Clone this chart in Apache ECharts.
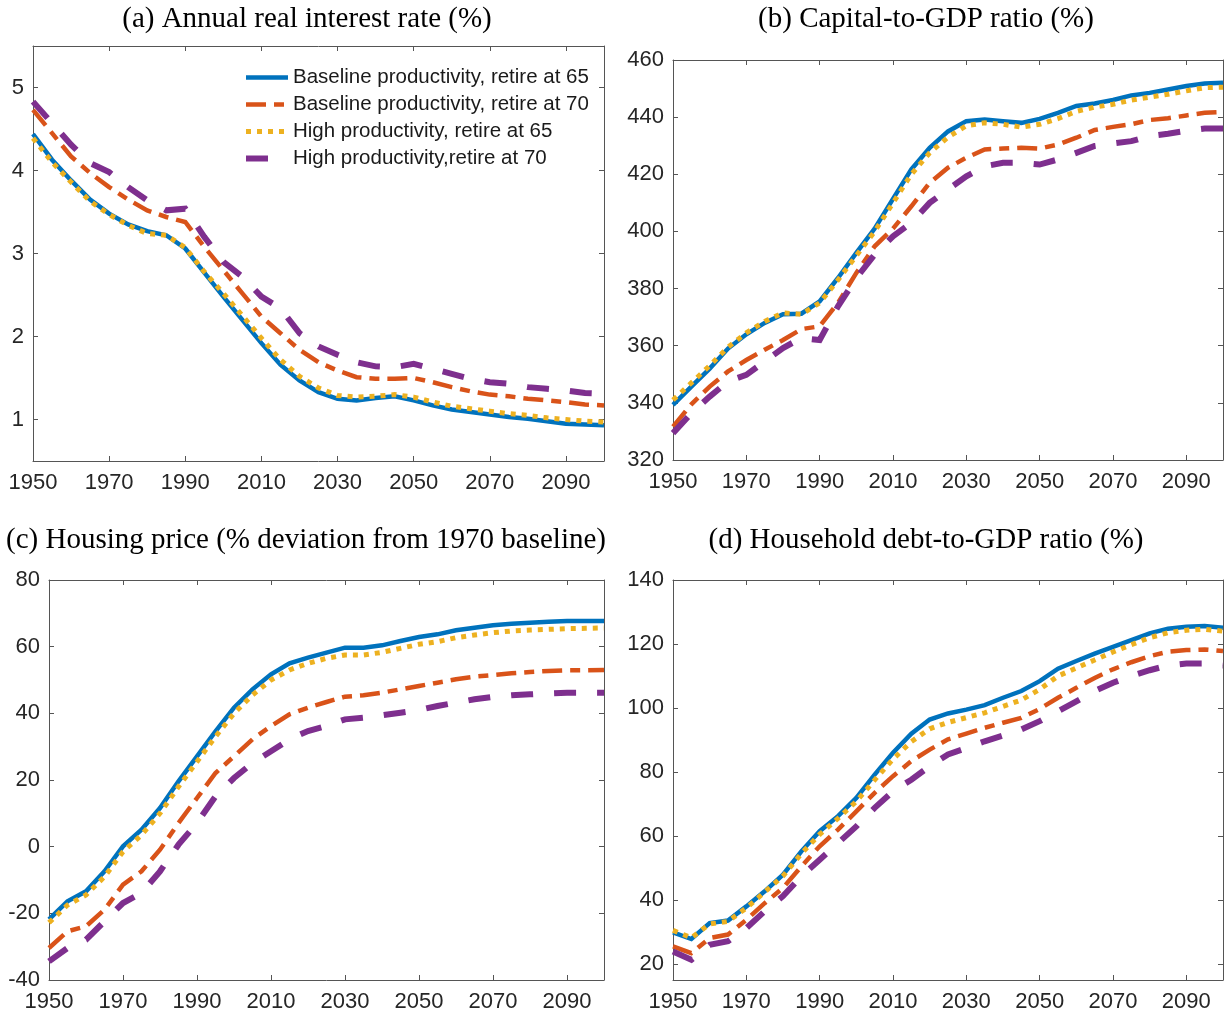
<!DOCTYPE html>
<html>
<head>
<meta charset="utf-8">
<script src="https://cdn.jsdelivr.net/npm/echarts@6/dist/echarts.min.js"></script>
<style>
html,body{margin:0;padding:0;background:#fff;}
#chart{width:1231px;height:1018px;}
</style>
</head>
<body>
<div id="chart"></div>
<script>
const years = [1950,1955,1960,1965,1970,1975,1980,1985,1990,1995,2000,2005,2010,2015,2020,2025,2030,2035,2040,2045,2050,2055,2060,2065,2070,2075,2080,2085,2090,2095,2100];
const xTicks = [1950,1970,1990,2010,2030,2050,2070,2090];
const seriesNames = ['Baseline productivity, retire at 65','Baseline productivity, retire at 70','High productivity, retire at 65','High productivity,retire at 70'];
const panelTitles = ['(a) Annual real interest rate (%)','(b) Capital-to-GDP ratio (%)','(c) Housing price (% deviation from 1970 baseline)','(d) Household debt-to-GDP ratio (%)'];

// (a) Annual real interest rate
const aBaseline65 = [4.44,4.13,3.88,3.65,3.48,3.35,3.27,3.22,3.06,2.77,2.48,2.20,1.92,1.66,1.47,1.33,1.25,1.23,1.26,1.28,1.23,1.17,1.12,1.09,1.06,1.03,1.01,0.98,0.95,0.94,0.93];
const aBaseline70 = [4.73,4.45,4.17,3.97,3.80,3.65,3.52,3.44,3.38,3.08,2.80,2.52,2.24,2.04,1.84,1.69,1.59,1.51,1.49,1.49,1.50,1.45,1.39,1.34,1.30,1.28,1.25,1.23,1.21,1.18,1.17];
const aHigh65 = [4.39,4.10,3.86,3.63,3.47,3.34,3.24,3.22,3.07,2.78,2.52,2.25,1.98,1.72,1.52,1.38,1.29,1.27,1.28,1.30,1.27,1.21,1.16,1.13,1.10,1.07,1.05,1.02,1.00,0.98,0.97];
const aHigh70 = [4.83,4.57,4.31,4.09,3.98,3.80,3.64,3.52,3.54,3.20,2.90,2.72,2.48,2.34,2.04,1.88,1.78,1.69,1.64,1.63,1.67,1.61,1.55,1.49,1.45,1.43,1.39,1.37,1.35,1.32,1.31];
const aTicks = [1,2,3,4,5];

// (b) Capital-to-GDP ratio
const bBaseline65 = [339.3,345.7,352,359,364,368,371,371.2,375.5,383.7,392.5,401,411.4,421.7,429.3,435,438.6,439.2,438.6,438,439.4,441.5,443.9,444.8,446,447.6,448.5,449.7,450.9,451.8,452];
const bBaseline70 = [331.7,339.5,345.7,351,355,358.6,362,365.8,366.8,375,385.5,394.8,401,408.8,417,422.3,425.8,428.7,429,429.3,429,430.4,432.8,435.5,436.6,437.5,439,439.6,440.6,441.5,441.8];
const bHigh65 = [341,347,353,359.5,364.5,368.5,371.5,371,375,383,391.5,400,410,420,427.5,433,437,438,437.5,436.5,437.5,439.5,442,443.5,444.5,446,447,448,449.2,450.3,450.5];
const bHigh70 = [329.4,336.4,342.2,347.5,349.8,354.5,359.2,362.7,362,373.8,383.7,391.9,398.3,403,410,414.7,419.3,422.8,424,424,423.4,425.2,427.5,429.9,430.8,431.6,433.4,434.2,435.2,436,436];
const bTicks = [320,340,360,380,400,420,440,460];

// (c) Housing price
const cBaseline65 = [-21.8,-16.4,-13.4,-7.4,0.1,5.1,11.6,19.6,27.1,34.6,41.7,47.2,51.7,55,56.7,58.2,59.7,59.7,60.4,61.7,62.9,63.7,64.9,65.7,66.4,66.9,67.2,67.5,67.7,67.7,67.7];
const cBaseline70 = [-30.4,-25.4,-23.9,-18.9,-11.4,-7.4,-0.9,7.1,14.6,22.1,27.1,32.2,36.2,39.7,41.7,43.4,45,45.4,46.2,47.2,48.2,49.2,50.2,51,51.5,52,52.4,52.7,52.9,52.9,53];
const cHigh65 = [-22.8,-17.5,-14.5,-9,-1.5,3.5,10,18,25.5,33,40,45.5,50,53,55,56.5,57.5,57.5,58.3,59.5,60.7,61.5,62.7,63.5,64.2,64.7,65,65.2,65.4,65.5,65.6];
const cHigh70 = [-34.4,-30.4,-27.9,-22.4,-16.9,-13.9,-7.4,0.6,7.1,15.1,20.6,25.1,28.6,32.2,34.7,36.2,38.2,38.7,39.4,40.2,41,42.2,43.2,44.2,44.9,45.4,45.7,46,46.2,46.2,46.2];
const cTicks = [-40,-20,0,20,40,60,80];

// (d) Household debt-to-GDP ratio
const dBaseline65 = [29.9,27.8,32.8,33.6,38,42.7,47.9,55.2,61.5,66.2,71.9,79.2,86,92,96.4,98.3,99.5,100.9,103.2,105.3,108.4,112.3,114.7,117,119.1,121.2,123.3,124.8,125.4,125.6,125.1];
const dBaseline70 = [25.5,23.4,28.1,29.2,33.8,39,43.8,50.5,56.8,62,67.7,73.5,78.7,83.4,87,90.2,92,93.8,95.4,96.9,99.7,103.2,106.3,109.4,112.1,114.3,116.2,117.6,118.1,118.3,117.8];
const dHigh65 = [30.5,28.2,32.5,33.3,37.5,42.5,47.5,54.5,60.5,65.5,70.8,77.5,84,89.5,93.5,95.5,97,98.5,100.5,102.5,105.8,110,112.5,115,117.5,119.8,122,123.5,124.3,124.6,124];
const dHigh70 = [23.9,21.3,26,27.1,31.2,36.5,41.2,47.4,52.6,57.8,63,68.8,74,77.6,81.8,85.5,87.5,89.6,91.4,93.3,95.9,99,102.1,105.3,107.9,110,111.8,113.3,113.9,113.9,113.3];
const dTicks = [20,40,60,80,100,120,140];

const panels = [
  {vals:[aBaseline65,aBaseline70,aHigh65,aHigh70], ticks:aTicks, min:0.5, max:5.5, grid:{left:33,top:46,width:571,height:415}, tx:307, ty:19},
  {vals:[bBaseline65,bBaseline70,bHigh65,bHigh70], ticks:bTicks, min:320, max:460, grid:{left:673,top:60,width:550,height:400}, tx:926, ty:19},
  {vals:[cBaseline65,cBaseline70,cHigh65,cHigh70], ticks:cTicks, min:-40, max:80, grid:{left:49,top:580,width:555,height:400}, tx:306, ty:540},
  {vals:[dBaseline65,dBaseline70,dHigh65,dHigh70], ticks:dTicks, min:15, max:140, grid:{left:673,top:580,width:550,height:400}, tx:926, ty:540}
];

const colors = ['#0072BD','#D95319','#EDB120','#7E2F8E'];
const widths = [4.5,4.5,5,6];
const dashes = ['solid',[20,8,10,8],[5,6],[22,21]];
const axisColor = '#555555';
const labelColor = '#262626';
const labelFont = 'Liberation Sans, Arial, sans-serif';
const plain = v => String(v);

const grid = [], xAxis = [], yAxis = [], series = [], graphic = [];
panels.forEach((p, i) => {
  grid.push(Object.assign({containLabel:false}, p.grid));
  const tickCommon = {show:true, inside:true, length:5, lineStyle:{color:axisColor, width:1}};
  xAxis.push({
    type:'value', gridIndex:i, position:'bottom', min:1950, max:2100,
    axisLine:{show:true, onZero:false, lineStyle:{color:axisColor, width:1}},
    axisTick:Object.assign({customValues:xTicks}, tickCommon),
    axisLabel:{customValues:xTicks, formatter:plain, color:labelColor, fontSize:22, fontFamily:labelFont, margin:11},
    splitLine:{show:false}
  });
  xAxis.push({
    type:'value', gridIndex:i, position:'top', min:1950, max:2100,
    axisLine:{show:true, onZero:false, lineStyle:{color:axisColor, width:1}},
    axisTick:Object.assign({customValues:xTicks}, tickCommon),
    axisLabel:{show:false}, splitLine:{show:false}
  });
  yAxis.push({
    type:'value', gridIndex:i, position:'left', min:p.min, max:p.max,
    axisLine:{show:true, onZero:false, lineStyle:{color:axisColor, width:1}},
    axisTick:Object.assign({customValues:p.ticks}, tickCommon),
    axisLabel:{customValues:p.ticks, formatter:plain, color:labelColor, fontSize:22, fontFamily:labelFont, margin:9},
    splitLine:{show:false}
  });
  yAxis.push({
    type:'value', gridIndex:i, position:'right', min:p.min, max:p.max,
    axisLine:{show:true, onZero:false, lineStyle:{color:axisColor, width:1}},
    axisTick:Object.assign({customValues:p.ticks}, tickCommon),
    axisLabel:{show:false}, splitLine:{show:false}
  });
  p.vals.forEach((v, k) => {
    series.push({
      name:seriesNames[k], type:'line', xAxisIndex:2*i, yAxisIndex:2*i,
      data:years.map((y, j) => [y, v[j]]),
      showSymbol:false, symbol:'none', clip:true,
      lineStyle:{color:colors[k], width:widths[k], type:dashes[k], cap:'butt', join:'miter'},
      itemStyle:{color:colors[k]},
      emphasis:{disabled:true}, z:2+k
    });
  });
  graphic.push({
    type:'text', x:p.tx, y:p.ty,
    style:{text:panelTitles[i], font:'29px "Liberation Serif", "Times New Roman", serif', fill:'#000', textAlign:'center', textVerticalAlign:'middle'}
  });
});

const chart = echarts.init(document.getElementById('chart'), null, {renderer:'canvas'});
chart.setOption({
  animation:false,
  backgroundColor:'#ffffff',
  grid, xAxis, yAxis, series, graphic,
  legend:{
    show:true, orient:'vertical', left:243, top:67, padding:0, itemWidth:42, itemHeight:20, itemGap:6,
    selectedMode:false,
    itemStyle:{opacity:0},
    textStyle:{fontSize:20.5, fontFamily:labelFont, color:'#1a1a1a'},
    data:seriesNames.map((n, k) => ({name:n, lineStyle:{width:widths[k]}}))
  }
});
</script>
</body>
</html>
